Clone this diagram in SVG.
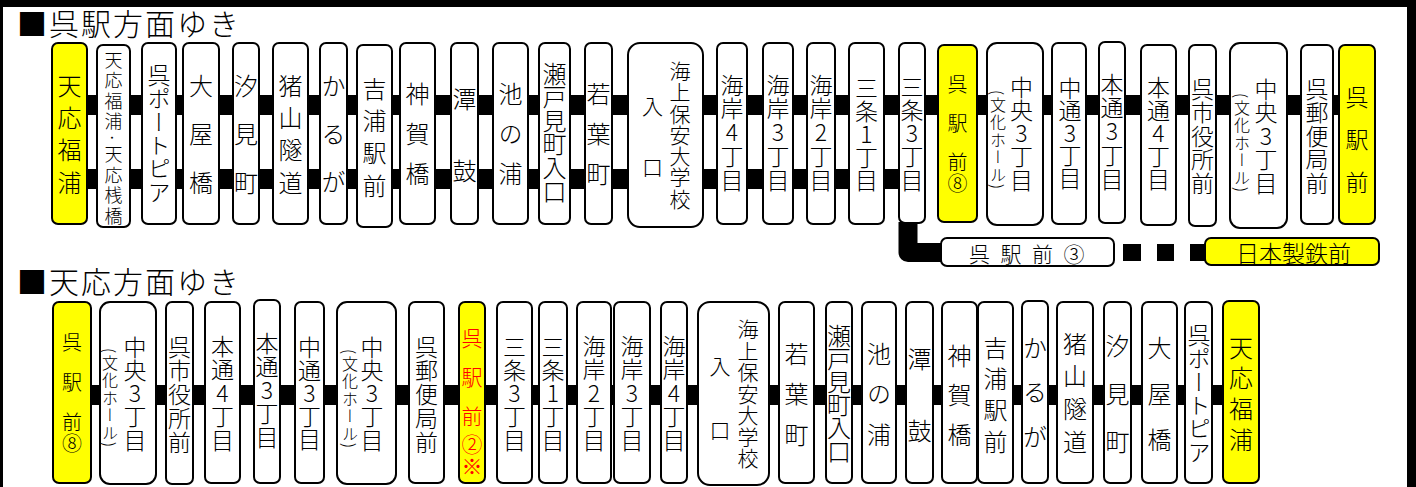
<svg xmlns="http://www.w3.org/2000/svg" width="1416" height="487" viewBox="0 0 1416 487">
<style>
.box{fill:#fff;stroke:#000;stroke-width:2}
.yel{fill:#ffff00}
.bar{fill:#000}
.v{font-family:"Noto Sans CJK JP","Noto Sans",sans-serif;font-weight:300;writing-mode:vertical-rl;text-orientation:upright;fill:#000}
.vm{font-family:"Noto Sans CJK JP","Noto Sans",sans-serif;font-weight:300;writing-mode:vertical-rl;text-orientation:mixed;fill:#000}
.h{font-family:"Noto Sans CJK JP","Noto Sans",sans-serif;font-weight:300;fill:#000}
.red{fill:#ff0000}
.z{letter-spacing:0}
</style>
<rect x="0" y="0" width="1416" height="487" fill="#fff"/>
<g id="frame">
<rect x="0" y="0" width="1416" height="7" fill="#000"/>
<rect x="0" y="0" width="3" height="487" fill="#000"/>
<rect x="1407" y="0" width="9" height="487" fill="#000"/>
</g>
<g id="headings">
<text class="h" x="17" y="35" style="font-size:30px;letter-spacing:2px">■呉駅方面ゆき</text>
<text class="h" x="17" y="293" style="font-size:30px;letter-spacing:2px">■天応方面ゆき</text>
</g>
<g id="connectors">
<rect class="bar" x="87" y="95" width="1252" height="20"/>
<rect class="bar" x="87" y="169" width="838" height="20"/>
<path d="M908,222 V252.5 H945" fill="none" stroke="#000" stroke-width="19" stroke-linejoin="round"/>
<rect class="bar" x="1123" y="244" width="18" height="17"/>
<rect class="bar" x="1157" y="244" width="17" height="17"/>
<rect class="bar" x="1190" y="244" width="17" height="17"/>
<rect class="bar" x="91" y="385" width="1132" height="20"/>
</g>
<g id="top-row">
<g id="t01"><rect class="box yel" x="52" y="43" width="35" height="181" rx="6"/><text class="v" x="69.5" y="73.5" style="font-size:24px;letter-spacing:8.3px">天応福<tspan class="z">浦</tspan></text></g>
<g id="t02"><rect class="box" x="97" y="45" width="33" height="182" rx="6"/><text class="vm" x="113.5" y="51" style="font-size:18px;letter-spacing:2.5px">天応福浦·天応桟<tspan class="z">橋</tspan></text></g>
<g id="t03"><rect class="box" x="142" y="43" width="34" height="181" rx="6"/><text class="v" x="159" y="63.5" style="font-size:23px;letter-spacing:0.4px">呉ポートピア</text></g>
<g id="t04"><rect class="box" x="183" y="43" width="36" height="181" rx="6"/><text class="v" x="201" y="73.5" style="font-size:24px;letter-spacing:24.5px">大屋<tspan class="z">橋</tspan></text></g>
<g id="t05"><rect class="box" x="233" y="43" width="26" height="181" rx="6"/><text class="v" x="246" y="73.5" style="font-size:24px;letter-spacing:24.5px">汐見<tspan class="z">町</tspan></text></g>
<g id="t06"><rect class="box" x="273" y="43" width="35" height="181" rx="6"/><text class="v" x="290.5" y="73.5" style="font-size:24px;letter-spacing:8.3px">猪山隧<tspan class="z">道</tspan></text></g>
<g id="t07"><rect class="box" x="320" y="43" width="27" height="181" rx="6"/><text class="v" x="333.5" y="73.5" style="font-size:24px;letter-spacing:24px">かる<tspan class="z">が</tspan></text></g>
<g id="t08"><rect class="box" x="357" y="45" width="35" height="182" rx="6"/><text class="v" x="374.5" y="76.5" style="font-size:24px;letter-spacing:8.3px">吉浦駅<tspan class="z">前</tspan></text></g>
<g id="t09"><rect class="box" x="400" y="43" width="35" height="181" rx="6"/><text class="v" x="417.5" y="81.5" style="font-size:24px;letter-spacing:16px">神賀<tspan class="z">橋</tspan></text></g>
<g id="t10"><rect class="box" x="451" y="43" width="27" height="181" rx="6"/><text class="v" x="464.5" y="86.5" style="font-size:24px;letter-spacing:48px">潭<tspan class="z">鼓</tspan></text></g>
<g id="t11"><rect class="box" x="493" y="43" width="35" height="181" rx="6"/><text class="v" x="510.5" y="81.5" style="font-size:24px;letter-spacing:16px">池の<tspan class="z">浦</tspan></text></g>
<g id="t12"><rect class="box" x="539" y="43" width="31" height="181" rx="6"/><text class="v" x="554.5" y="61.5" style="font-size:24px;letter-spacing:-0.4px">瀬戸見町入口</text></g>
<g id="t13"><rect class="box" x="585" y="43" width="27" height="181" rx="6"/><text class="v" x="598.5" y="81.5" style="font-size:24px;letter-spacing:16px">若葉<tspan class="z">町</tspan></text></g>
<g id="t14"><rect class="box" x="628" y="43" width="75" height="184" rx="12"/><text class="v" x="680" y="60.7" style="font-size:21px;letter-spacing:0.25px">海上保安大学校</text><text class="v" x="652.5" y="96" style="font-size:21px;letter-spacing:40px">入<tspan class="z">口</tspan></text></g>
<g id="t15"><rect class="box" x="717" y="43" width="30" height="181" rx="6"/><text class="v" x="732" y="73.5" style="font-size:23px;letter-spacing:0.75px">海岸4丁目</text></g>
<g id="t16"><rect class="box" x="763" y="43" width="30" height="181" rx="6"/><text class="v" x="778" y="73.5" style="font-size:23px;letter-spacing:0.75px">海岸3丁目</text></g>
<g id="t17"><rect class="box" x="807" y="43" width="28" height="181" rx="6"/><text class="v" x="821" y="73.5" style="font-size:23px;letter-spacing:0.75px">海岸2丁目</text></g>
<g id="t18"><rect class="box" x="849" y="43" width="35" height="181" rx="6"/><text class="v" x="866.5" y="76.5" style="font-size:23px;letter-spacing:0px">三条1丁目</text></g>
<g id="t19"><rect class="box" x="899" y="43" width="26" height="180" rx="6"/><text class="v" x="912" y="75.5" style="font-size:23px;letter-spacing:0.25px">三条3丁目</text></g>
<g id="t20"><rect class="box yel" x="938" y="45" width="39" height="177" rx="6"/><text class="v" x="957.5" y="74" style="font-size:20px;letter-spacing:19px">呉駅<tspan style="letter-spacing:1px">前</tspan><tspan class="z">⑧</tspan></text></g>
<g id="t21"><rect class="box" x="987" y="43" width="56" height="182" rx="10"/><text class="v" x="1021.5" y="75.5" style="font-size:23px;letter-spacing:0.25px">中央3丁目</text><text class="vm" x="998" y="90" style="font-size:16px;letter-spacing:1.5px">(文化ホール)</text></g>
<g id="t22"><rect class="box" x="1052" y="43" width="34" height="181" rx="6"/><text class="v" x="1070" y="76.5" style="font-size:23px;letter-spacing:-0.5px">中通3丁目</text></g>
<g id="t23"><rect class="box" x="1099" y="42" width="26" height="181" rx="6"/><text class="v" x="1112" y="72.5" style="font-size:23px;letter-spacing:0.75px">本通3丁目</text></g>
<g id="t24"><rect class="box" x="1141" y="45" width="35" height="180" rx="6"/><text class="v" x="1158.5" y="75.5" style="font-size:23px;letter-spacing:0px">本通4丁目</text></g>
<g id="t25"><rect class="box" x="1189" y="45" width="27" height="181" rx="6"/><text class="v" x="1202.5" y="77.5" style="font-size:23px;letter-spacing:0.5px">呉市役所前</text></g>
<g id="t26"><rect class="box" x="1230" y="43" width="57" height="185" rx="10"/><text class="v" x="1266" y="77.5" style="font-size:23px;letter-spacing:0.5px">中央3丁目</text><text class="vm" x="1242" y="93" style="font-size:16px;letter-spacing:1.5px">(文化ホール)</text></g>
<g id="t27"><rect class="box" x="1301" y="45" width="32" height="179" rx="6"/><text class="v" x="1317" y="77.5" style="font-size:23px;letter-spacing:0.5px">呉郵便局前</text></g>
<g id="t28"><rect class="box yel" x="1339" y="45" width="36" height="179" rx="6"/><text class="v" x="1357" y="85.5" style="font-size:23px;letter-spacing:19.5px">呉駅<tspan class="z">前</tspan></text></g>
<g id="b-kure3"><rect class="box" x="941" y="238" width="173" height="28" rx="6"/><text class="h" x="969" y="261.5" style="font-size:21px;letter-spacing:10.5px">呉駅前<tspan class="z">③</tspan></text></g>
<g id="b-nittetsu"><rect class="box yel" x="1205" y="238" width="174" height="27" rx="6"/><text class="h" x="1293.5" y="261.5" text-anchor="middle" style="font-size:23px">日本製鉄前</text></g>
</g>
<g id="bottom-row">
<g id="u01"><rect class="box yel" x="53" y="302" width="38" height="181" rx="6"/><text class="v" x="72" y="332" style="font-size:20px;letter-spacing:20px">呉駅<tspan style="letter-spacing:1px">前</tspan><tspan class="z">⑧</tspan></text></g>
<g id="u02"><rect class="box" x="100" y="302" width="56" height="182" rx="10"/><text class="v" x="135" y="335.5" style="font-size:23px;letter-spacing:0.25px">中央3丁目</text><text class="vm" x="110" y="348" style="font-size:16px;letter-spacing:1.5px">(文化ホール)</text></g>
<g id="u03"><rect class="box" x="166" y="302" width="27" height="182" rx="6"/><text class="v" x="179.5" y="335.5" style="font-size:23px;letter-spacing:0.75px">呉市役所前</text></g>
<g id="u04"><rect class="box" x="205" y="302" width="35" height="181" rx="6"/><text class="v" x="222.5" y="334.5" style="font-size:23px;letter-spacing:0.5px">本通4丁目</text></g>
<g id="u05"><rect class="box" x="254" y="300" width="26" height="183" rx="6"/><text class="v" x="267" y="331.5" style="font-size:23px;letter-spacing:0.5px">本通3丁目</text></g>
<g id="u06"><rect class="box" x="295" y="302" width="29" height="181" rx="6"/><text class="v" x="309.5" y="335.5" style="font-size:23px;letter-spacing:0px">中通3丁目</text></g>
<g id="u07"><rect class="box" x="337" y="302" width="59" height="182" rx="10"/><text class="v" x="372" y="335.5" style="font-size:23px;letter-spacing:0.25px">中央3丁目</text><text class="vm" x="350" y="349" style="font-size:16px;letter-spacing:1.5px">(文化ホール)</text></g>
<g id="u08"><rect class="box" x="409" y="302" width="35" height="181" rx="6"/><text class="v" x="426.5" y="335.5" style="font-size:23px;letter-spacing:0.75px">呉郵便局前</text></g>
<g id="u09"><rect class="box yel" x="459" y="302" width="26" height="181" rx="6"/><text class="v red" x="472" y="328" style="font-size:21px;letter-spacing:18px">呉駅<tspan style="letter-spacing:7px">前</tspan><tspan style="letter-spacing:1px">②</tspan><tspan class="z" style="font-weight:bold">※</tspan></text></g>
<g id="u10"><rect class="box" x="497" y="302" width="35" height="181" rx="6"/><text class="v" x="514.5" y="335.5" style="font-size:23px;letter-spacing:0.25px">三条3丁目</text></g>
<g id="u11"><rect class="box" x="539" y="302" width="28" height="181" rx="6"/><text class="v" x="553" y="335.5" style="font-size:23px;letter-spacing:0.25px">三条1丁目</text></g>
<g id="u12"><rect class="box" x="577" y="302" width="34" height="181" rx="6"/><text class="v" x="594" y="334.5" style="font-size:23px;letter-spacing:0.5px">海岸2丁目</text></g>
<g id="u13"><rect class="box" x="614" y="302" width="36" height="181" rx="6"/><text class="v" x="632" y="334.5" style="font-size:23px;letter-spacing:0.5px">海岸3丁目</text></g>
<g id="u14"><rect class="box" x="661" y="302" width="26" height="181" rx="6"/><text class="v" x="674" y="334.5" style="font-size:23px;letter-spacing:0.5px">海岸4丁目</text></g>
<g id="u15"><rect class="box" x="698" y="302" width="71" height="183" rx="12"/><text class="v" x="748" y="318.7" style="font-size:21px;letter-spacing:0.5px">海上保安大学校</text><text class="v" x="720" y="355.5" style="font-size:21px;letter-spacing:43px">入<tspan class="z">口</tspan></text></g>
<g id="u16"><rect class="box" x="779" y="302" width="35" height="181" rx="6"/><text class="v" x="796.5" y="341.5" style="font-size:24px;letter-spacing:16.5px">若葉<tspan class="z">町</tspan></text></g>
<g id="u17"><rect class="box" x="826" y="302" width="26" height="181" rx="6"/><text class="v" x="839" y="323.5" style="font-size:24px;letter-spacing:-0.8px">瀬戸見町入口</text></g>
<g id="u18"><rect class="box" x="862" y="302" width="34" height="181" rx="6"/><text class="v" x="879" y="341.5" style="font-size:24px;letter-spacing:16.5px">池の<tspan class="z">浦</tspan></text></g>
<g id="u19"><rect class="box" x="906" y="302" width="27" height="181" rx="6"/><text class="v" x="919.5" y="346.5" style="font-size:24px;letter-spacing:48px">潭<tspan class="z">鼓</tspan></text></g>
<g id="u20"><rect class="box" x="942" y="302" width="35" height="181" rx="6"/><text class="v" x="959.5" y="343.5" style="font-size:24px;letter-spacing:15.5px">神賀<tspan class="z">橋</tspan></text></g>
<g id="u21"><rect class="box" x="978" y="302" width="35" height="181" rx="6"/><text class="v" x="995.5" y="335.5" style="font-size:24px;letter-spacing:7.3px">吉浦駅<tspan class="z">前</tspan></text></g>
<g id="u22"><rect class="box" x="1022" y="301" width="26" height="182" rx="6"/><text class="v" x="1035" y="335.5" style="font-size:24px;letter-spacing:20.5px">かる<tspan class="z">が</tspan></text></g>
<g id="u23"><rect class="box" x="1057" y="302" width="36" height="181" rx="6"/><text class="v" x="1075" y="331.5" style="font-size:24px;letter-spacing:8.7px">猪山隧<tspan class="z">道</tspan></text></g>
<g id="u24"><rect class="box" x="1104" y="302" width="27" height="181" rx="6"/><text class="v" x="1117.5" y="333.5" style="font-size:24px;letter-spacing:24px">汐見<tspan class="z">町</tspan></text></g>
<g id="u25"><rect class="box" x="1142" y="302" width="35" height="181" rx="6"/><text class="v" x="1159.5" y="335.5" style="font-size:24px;letter-spacing:22px">大屋<tspan class="z">橋</tspan></text></g>
<g id="u26"><rect class="box" x="1185" y="302" width="27" height="181" rx="6"/><text class="v" x="1199" y="323.5" style="font-size:23px;letter-spacing:0.4px">呉ポートピア</text></g>
<g id="u27"><rect class="box yel" x="1223" y="301" width="36" height="182" rx="6"/><text class="v" x="1241" y="335.5" style="font-size:24px;letter-spacing:6.7px">天応福<tspan class="z">浦</tspan></text></g>
</g>
</svg>
